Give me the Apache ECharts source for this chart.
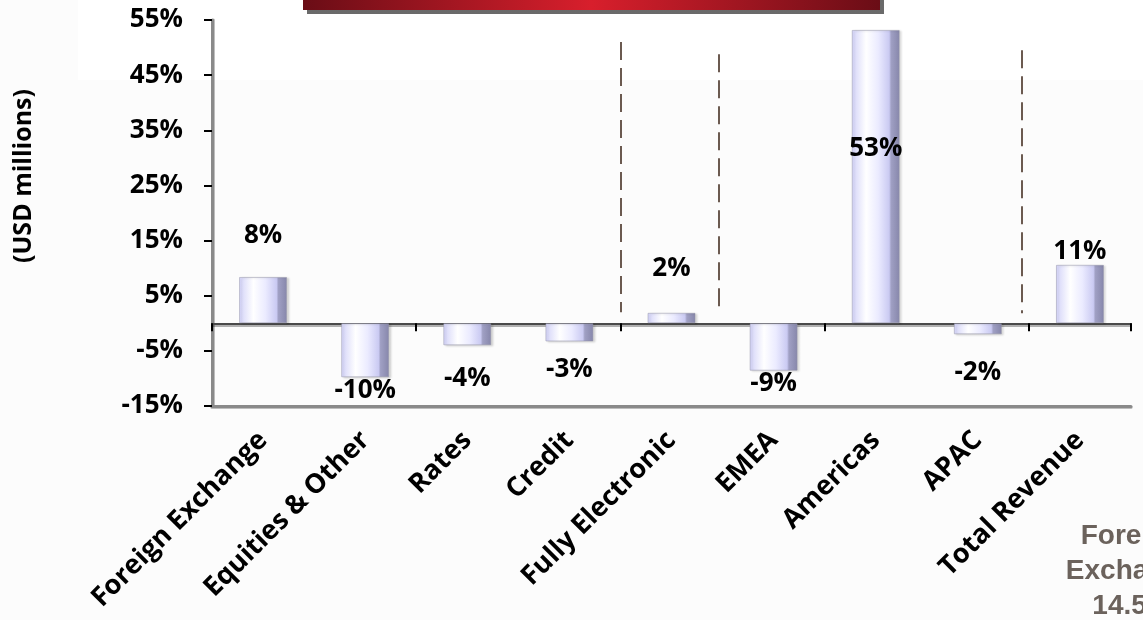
<!DOCTYPE html>
<html>
<head>
<meta charset="utf-8">
<script src="https://cdn.jsdelivr.net/npm/echarts@6/dist/echarts.min.js"></script>
<style>
	html, body {
		margin: 0;
		padding: 0;
		width: 100%;
		height: 100%;
		background: #fcfcfc;
	}
	#chartBox {
		width: 1143px;
		height: 620px;
	}
</style>
</head>
<body>
<div id="chartBox"></div>
<script>
	// 数据
	var categories = ['Foreign Exchange', 'Equities & Other', 'Rates', 'Credit', 'Fully Electronic', 'EMEA', 'Americas', 'APAC', 'Total Revenue'];
	var growth = [8.4, -9.8, -4.0, -3.3, 1.9, -8.6, 53.2, -2.0, 10.6];
	var yTickLabels = ['-15%', '-5%', '5%', '15%', '25%', '35%', '45%', '55%'];
	// 虚线分隔（分类边界位置, 上端, 下端）
	var dividerAt = [4, 4.96, 7.93];
	var dividerTop = [51, 48.8, 49.5];
	var dividerBottom = [2, 2.5, 1.8];

	// 标签样式
	var labelPos = ['top', 'bottom', 'bottom', 'bottom', 'top', 'bottom', 'insideTop', 'bottom', 'top'];
	var labelGap = [28, 0, 20, 15, 31, 0, 106, 25, 0];

	var fontFam = '"Open Sans", Lato, sans-serif';

	var barColor = new echarts.graphic.LinearGradient(0, 0, 1, 0, [
		{ offset: 0, color: '#d2d2f8' },
		{ offset: 0.3, color: '#ffffff' },
		{ offset: 0.55, color: '#ebebff' },
		{ offset: 0.78, color: '#cacaf2' },
		{ offset: 0.82, color: '#a0a0c4' },
		{ offset: 1, color: '#8686aa' }
	]);

	var barData = growth.map(function (v, i) {
		return {
			value: v,
			label: { position: labelPos[i], distance: labelGap[i] }
		};
	});

	var dividerLines = dividerAt.map(function (x, i) {
		return [{ coord: [x, dividerTop[i]] }, { coord: [x, dividerBottom[i]] }];
	});

	var chart = echarts.init(document.getElementById('chartBox'));
	var option = {
		backgroundColor: '#fcfcfc',
		animation: false,
		grid: { left: 212, right: 12, top: 20, bottom: 214 },
		xAxis: [
			{ // 底部分类标签
				type: 'category',
				data: categories,
				position: 'bottom',
				axisLine: { onZero: false, lineStyle: { color: '#8a8a8a', width: 3, shadowColor: 'rgba(0,0,0,0.25)', shadowOffsetY: 1 } },
				axisTick: { show: false },
				axisLabel: {
					interval: 0,
					rotate: 45,
					margin: 30,
					color: '#000',
					fontFamily: fontFam,
					fontWeight: 'bold',
					fontSize: 27
				}
			},
			{ // 零线
				type: 'category',
				data: categories,
				position: 'bottom',
				axisLine: { onZero: true, onZeroAxisIndex: 0, lineStyle: { color: '#4a4a4a', width: 2, shadowColor: 'rgba(0,0,0,0.3)', shadowOffsetY: 2 } },
				axisTick: { show: true, length: 8, lineStyle: { color: '#000', width: 2 } },
				axisLabel: { show: false }
			},
			{ // 分隔线用
				type: 'value',
				min: 0,
				max: 9,
				show: false
			}
		],
		yAxis: [
			{
				type: 'value',
				min: -15,
				max: 55,
				position: 'left',
				show: false
			},
			{ // 刻度标签
				type: 'value',
				min: 0,
				max: 70,
				interval: 10,
				position: 'left',
				splitLine: { show: false },
				axisLine: { show: true, lineStyle: { color: '#8a8a8a', width: 3, shadowColor: 'rgba(0,0,0,0.25)', shadowOffsetX: 1 } },
				axisTick: { show: true, length: 8, lineStyle: { color: '#000', width: 2 } },
				axisLabel: {
					margin: 29,
					color: '#000',
					fontFamily: fontFam,
					fontWeight: 'bold',
					fontSize: 26,
					formatter: function (v, idx) {
						return yTickLabels[idx];
					}
				}
			}
		],
		series: [
			{
				type: 'bar',
				xAxisIndex: 0,
				yAxisIndex: 0,
				data: barData,
				barWidth: '47%',
				itemStyle: {
					color: barColor,
					borderColor: 'rgba(150,150,170,0.5)',
					borderWidth: 1,
					shadowColor: 'rgba(0,0,0,0.15)',
					shadowOffsetX: 2,
					shadowOffsetY: 1,
					shadowBlur: 2
				},
				label: {
					show: true,
					color: '#000',
					fontFamily: fontFam,
					fontWeight: 'bold',
					fontSize: 26,
					formatter: function (p) {
						return Math.round(p.value) + '%';
					}
				}
			},
			{
				type: 'line',
				xAxisIndex: 2,
				yAxisIndex: 0,
				data: [],
				markLine: {
					silent: true,
					symbol: ['none', 'none'],
					label: { show: false },
					lineStyle: { color: '#6b5a50', width: 2, type: [18, 8] },
					data: dividerLines
				}
			}
		],
		graphic: [
			{ // 顶部白色区域
				type: 'rect',
				z: -10,
				shape: { x: 78, y: 0, width: 1065, height: 80 },
				style: { fill: '#ffffff' }
			},
			{ // 红色标题条
				type: 'rect',
				z: 100,
				shape: { x: 303, y: -20, width: 577, height: 30 },
				style: {
					fill: new echarts.graphic.LinearGradient(0, 0, 1, 0, [
						{ offset: 0, color: '#6a0d16' },
						{ offset: 0.5, color: '#d81f2c' },
						{ offset: 1, color: '#6a0d16' }
					]),
					shadowColor: 'rgba(90,90,90,0.9)',
					shadowOffsetX: 4,
					shadowOffsetY: 4
				}
			},
			{
				type: 'text',
				x: 24,
				y: 176,
				rotation: Math.PI / 2,
				style: {
					text: '(USD millions)',
					fill: '#000',
					font: 'bold 25px ' + fontFam,
					align: 'center',
					verticalAlign: 'middle'
				}
			},
			{
				type: 'text',
				x: 1132,
				y: 519,
				style: {
					text: 'Foreign\nExchange\n14.5%',
					fill: '#6b625c',
					font: 'bold 28px "Liberation Sans", Arial, sans-serif',
					lineHeight: 35,
					align: 'center',
					verticalAlign: 'top'
				}
			}
		]
	};
	chart.setOption(option);
</script>
</body>
</html>
